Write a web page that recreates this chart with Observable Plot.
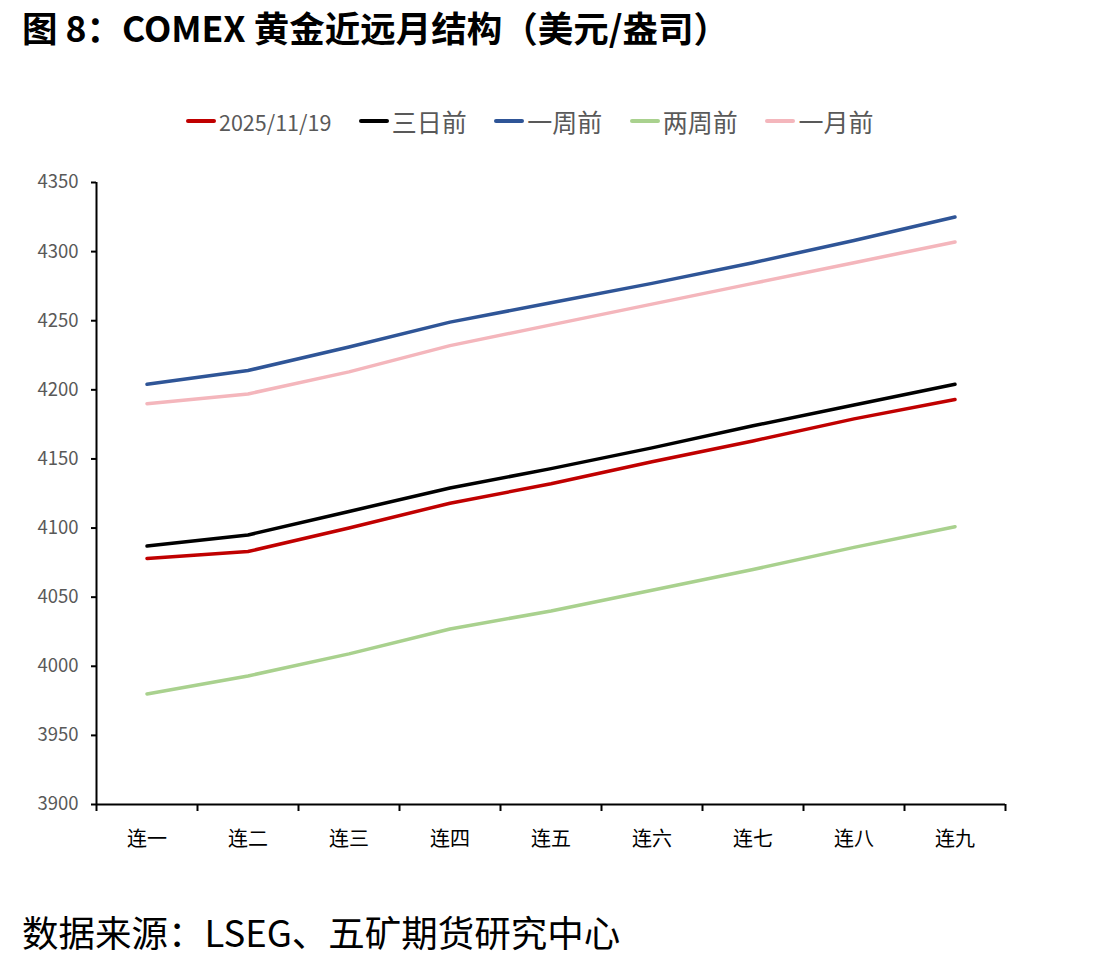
<!DOCTYPE html>
<html>
<head>
<meta charset="utf-8">
<script src="https://cdn.jsdelivr.net/npm/d3@7"></script>
<script src="https://cdn.jsdelivr.net/npm/@observablehq/plot@0.6"></script>
<style>
  html, body { margin: 0; padding: 0; background: #fff; }
  body { width: 1094px; height: 968px; position: relative; overflow: hidden; font-family: "Noto Sans CJK SC", "Noto Sans", sans-serif; }
  #title { position: absolute; left: 22px; top: 1px; font-size: 35.5px; font-weight: 700; color: #000; white-space: nowrap; }
  #legend { position: absolute; left: 186px; top: 104px; height: 34px; display: flex; align-items: center; gap: 27.5px; font-size: 25px; color: #595959; white-space: nowrap; }
  #legend .item { display: flex; align-items: center; gap: 3px; }
  #legend .item.latin span { font-size: 21.5px; }
  #legend .sw { width: 30px; height: 4px; border-radius: 2px; }
  #chart { position: absolute; left: 0; top: 150px; }
  #caption { position: absolute; left: 22px; top: 905px; font-size: 36.5px; color: #000; white-space: nowrap; }
</style>
</head>
<body>
<div id="title">图 8：COMEX 黄金近远月结构（美元/盎司）</div>
<div id="legend"></div>
<div id="chart"></div>
<div id="caption">数据来源：LSEG、五矿期货研究中心</div>
<script>
// Contract months: first through ninth nearby
const contracts = ["连一", "连二", "连三", "连四", "连五", "连六", "连七", "连八", "连九"];

// Series names and colors
const seriesNames = ["2025/11/19", "三日前", "一周前", "两周前", "一月前"];
const seriesColors = ["#C00000", "#000000", "#2F5597", "#A9D18E", "#F4B6BC"];

// Futures prices, USD per ounce
const price20251119 = [4078, 4083, 4100, 4118, 4132, 4148, 4163, 4179, 4193];
const priceThreeDaysAgo = [4087, 4095, 4112, 4129, 4143, 4158, 4174, 4189, 4204];
const priceOneWeekAgo = [4204, 4214, 4231, 4249, 4263, 4277, 4292, 4308, 4325];
const priceTwoWeeksAgo = [3980, 3993, 4009, 4027, 4040, 4055, 4070, 4086, 4101];
const priceOneMonthAgo = [4190, 4197, 4213, 4232, 4247, 4262, 4277, 4292, 4307];

// Y-axis tick values
const yTicks = [3900, 3950, 4000, 4050, 4100, 4150, 4200, 4250, 4300, 4350];

const seriesValues = [price20251119, priceThreeDaysAgo, priceOneWeekAgo, priceTwoWeeksAgo, priceOneMonthAgo];

// Long-format table: one row per series per contract
const rows = [];
seriesNames.forEach((name, s) => {
  seriesValues[s].forEach((v, i) => rows.push({series: name, pos: i + 1, value: v}));
});

// Legend
const legend = document.getElementById("legend");
seriesNames.forEach((name, s) => {
  const item = document.createElement("div");
  item.className = /^[0-9\/]+$/.test(name) ? "item latin" : "item";
  const sw = document.createElement("div");
  sw.className = "sw";
  sw.style.background = seriesColors[s];
  const label = document.createElement("span");
  label.textContent = name;
  item.appendChild(sw);
  item.appendChild(label);
  legend.appendChild(item);
});

const positions = contracts.map((_, i) => i + 1);
const boundaries = d3.range(0, contracts.length + 1).map(i => i + 0.5);

const plot = Plot.plot({
  width: 1094,
  height: 720,
  marginLeft: 96,
  marginRight: 89,
  marginTop: 32,
  marginBottom: 66,
  style: {fontFamily: "\"Noto Sans CJK SC\", \"Noto Sans\", sans-serif", background: "#fff"},
  x: {type: "linear", domain: [0.5, contracts.length + 0.5], axis: null},
  y: {domain: [3900, 4350], axis: null},
  color: {domain: seriesNames, range: seriesColors},
  marks: [
    Plot.line(rows, {x: "pos", y: "value", z: "series", stroke: "series", strokeWidth: 3.5, strokeLinecap: "round", strokeLinejoin: "round"}),
    // y axis: tick marks, then labels
    Plot.axisY({ticks: yTicks, tickSize: 5, stroke: "#000", strokeWidth: 2, tickFormat: () => "", label: null}),
    Plot.axisY({ticks: yTicks, tickSize: 0, tickPadding: 18, fontSize: 18.5, fill: "#595959", stroke: "none", tickFormat: d => String(d), label: null}),
    Plot.ruleX([0.5], {stroke: "#000", strokeWidth: 2}),
    // x axis: boundary ticks between contracts, then labels at centres
    Plot.ruleY([3900], {stroke: "#000", strokeWidth: 2}),
    Plot.axisX({ticks: boundaries, tickSize: 7, stroke: "#000", strokeWidth: 2, tickFormat: () => "", label: null}),
    Plot.axisX({ticks: positions, tickSize: 0, tickPadding: 27, fontSize: 20, fill: "#000", stroke: "none", tickFormat: d => contracts[d - 1], label: null})
  ]
});
document.getElementById("chart").appendChild(plot);
</script>
</body>
</html>
